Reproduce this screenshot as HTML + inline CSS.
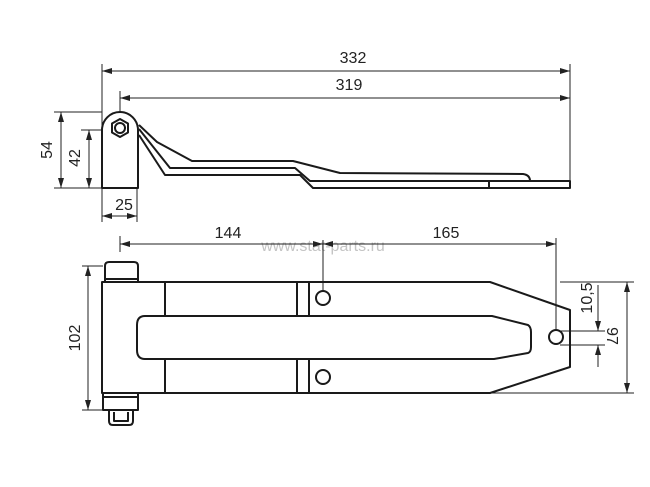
<!DOCTYPE html>
<html><head><meta charset="utf-8"><style>
html,body{margin:0;padding:0;background:#fff;}
svg{display:block;}
text{font-family:"Liberation Sans",sans-serif;font-size:16px;fill:#222;}
</style></head><body>
<svg width="650" height="487" viewBox="0 0 650 487" xmlns="http://www.w3.org/2000/svg">
<defs>
<marker id="a" viewBox="0 0 10 6" refX="10" refY="3" markerWidth="10" markerHeight="6" orient="auto-start-reverse" markerUnits="userSpaceOnUse"><path d="M0,0 L10,3 L0,6 z" fill="#222"/></marker>
</defs>
<text x="323" y="251" text-anchor="middle" font-size="20" style="fill:#c4c4c4">www.stat-parts.ru</text>
<g stroke="#222" stroke-width="1" fill="none">
<line x1="102" y1="64" x2="102" y2="190"/>
<line x1="570" y1="64" x2="570" y2="188"/>
<line x1="102" y1="71" x2="570" y2="71" marker-start="url(#a)" marker-end="url(#a)"/>
<line x1="120" y1="91" x2="120" y2="112"/>
<line x1="120" y1="98" x2="570" y2="98" marker-start="url(#a)" marker-end="url(#a)"/>
<line x1="54" y1="112" x2="102" y2="112"/>
<line x1="54" y1="188" x2="102" y2="188"/>
<line x1="61" y1="112" x2="61" y2="188" marker-start="url(#a)" marker-end="url(#a)"/>
<line x1="81" y1="130" x2="112" y2="130"/>
<line x1="89" y1="130" x2="89" y2="188" marker-start="url(#a)" marker-end="url(#a)"/>
<line x1="137" y1="188" x2="137" y2="222"/>
<line x1="102" y1="190" x2="102" y2="222"/>
<line x1="102" y1="216" x2="137" y2="216" marker-start="url(#a)" marker-end="url(#a)"/>
<line x1="120" y1="236" x2="120" y2="252"/>
<line x1="120" y1="244" x2="323" y2="244" marker-start="url(#a)" marker-end="url(#a)"/>
<line x1="323" y1="244" x2="556" y2="244" marker-start="url(#a)" marker-end="url(#a)"/>
<line x1="323" y1="240" x2="323" y2="292"/>
<line x1="556" y1="238" x2="556" y2="330"/>
<line x1="82" y1="266" x2="103" y2="266"/>
<line x1="82" y1="410" x2="103" y2="410"/>
<line x1="88" y1="266" x2="88" y2="410" marker-start="url(#a)" marker-end="url(#a)"/>
<line x1="560" y1="282" x2="634" y2="282"/>
<line x1="490" y1="393" x2="634" y2="393"/>
<line x1="627" y1="282" x2="627" y2="393" marker-start="url(#a)" marker-end="url(#a)"/>
<line x1="560" y1="331" x2="605" y2="331"/>
<line x1="560" y1="345" x2="605" y2="345"/>
<line x1="598" y1="285" x2="598" y2="331" marker-end="url(#a)"/>
<line x1="598" y1="367" x2="598" y2="345" marker-end="url(#a)"/>
</g>
<g stroke="#1a1a1a" stroke-width="2" fill="none" stroke-linejoin="round">
<path d="M102,188 L102,130 A18,18 0 0 1 138,130 L138,188 Z" fill="#fff"/>
<polygon points="120,119 128,123.5 128,132.5 120,137 112,132.5 112,123.5"/>
<circle cx="120" cy="128" r="5"/>
<path d="M139,125 L157,142 L192,161 L293,161 L340,173 L523,174 Q530,175 530,181"/>
<path d="M139,129 L170,168 L295,168 L310,181 L570,181 L570,188 L313,188 L300,175 L165,175 L139,135"/>
<line x1="489" y1="181" x2="489" y2="188"/>
<path d="M105,282 L105,266 Q105,262 109,262 L134,262 Q138,262 138,266 L138,282"/>
<line x1="104" y1="279" x2="138" y2="279"/>
<path d="M103,393 L103,410 L138,410 L138,393"/>
<line x1="103" y1="397" x2="138" y2="397"/>
<path d="M109,410 L109,421 Q109,425 113,425 L129,425 Q133,425 133,421 L133,410"/>
<path d="M114,412 L114,421 L128,421 L128,412"/>
<path d="M102,282 L490,282 L570,310 L570,367 L490,393 L102,393 Z"/>
<path d="M145,316 L492,316 L528,325 Q531,327 531,332 L531,347 Q531,352 528,353 L494,359 L145,359 Q137,359 137,350 L137,325 Q137,316 145,316 Z"/>
<line x1="165" y1="282" x2="165" y2="316"/>
<line x1="165" y1="359" x2="165" y2="393"/>
<line x1="297" y1="282" x2="297" y2="316"/>
<line x1="309" y1="282" x2="309" y2="316"/>
<line x1="297" y1="359" x2="297" y2="393"/>
<line x1="309" y1="359" x2="309" y2="393"/>
<circle cx="323" cy="298" r="7"/>
<circle cx="323" cy="377" r="7"/>
<circle cx="556" cy="337" r="7"/>
</g>
<text x="353" y="63" text-anchor="middle">332</text>
<text x="349" y="90" text-anchor="middle">319</text>
<text x="124" y="210" text-anchor="middle">25</text>
<text transform="translate(52,150) rotate(-90)" text-anchor="middle">54</text>
<text transform="translate(80,158) rotate(-90)" text-anchor="middle">42</text>
<text transform="translate(80,338) rotate(-90)" text-anchor="middle">102</text>
<text x="228" y="238" text-anchor="middle">144</text>
<text x="446" y="238" text-anchor="middle">165</text>
<text transform="translate(592,298) rotate(-90)" text-anchor="middle">10,5</text>
<text transform="translate(607,336) rotate(90)" text-anchor="middle">97</text>
</svg>
</body></html>
